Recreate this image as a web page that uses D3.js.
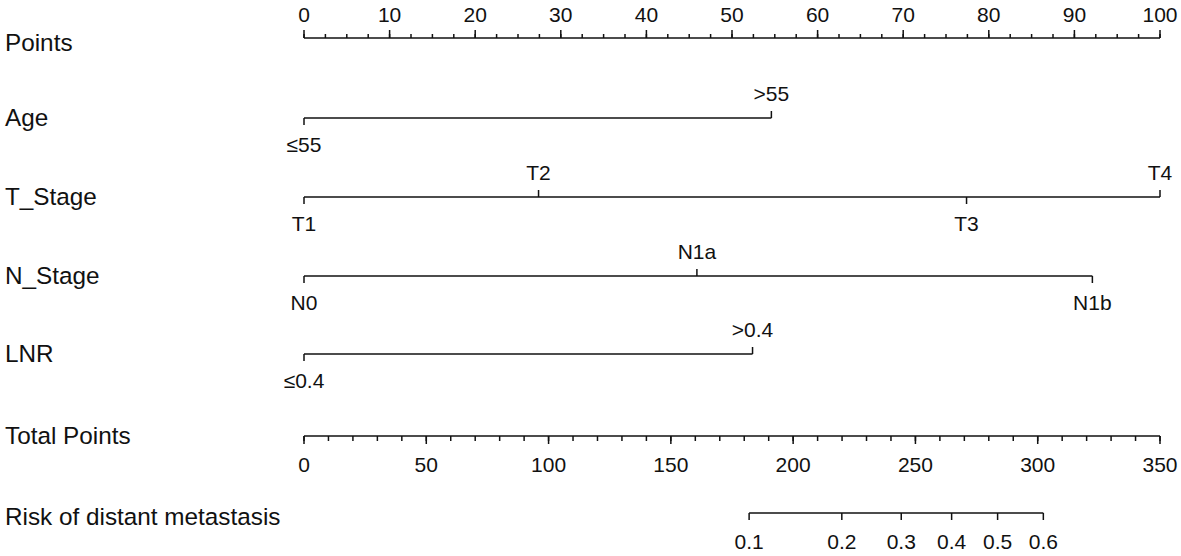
<!DOCTYPE html>
<html>
<head>
<meta charset="utf-8">
<script src="https://cdn.jsdelivr.net/npm/d3@7/dist/d3.min.js"></script>
<style>
  html, body { margin: 0; padding: 0; background: #fff; }
  svg { display: block; }
  text { font-family: "Liberation Sans", Arial, sans-serif; fill: #111; }
</style>
</head>
<body>
<svg id="chart" width="1181" height="556"></svg>
<script>
// ---- data ----
const rowLabels = ["Points", "Age", "T_Stage", "N_Stage", "LNR", "Total Points", "Risk of distant metastasis"];
const pointTicks = d3.range(0, 101, 10);
const pointMinorTicks = d3.range(0, 100.01, 2.5);

const ageLevels = ["≤55", ">55"];
const agePoints = [0, 54.6];
const tLevels = ["T1", "T2", "T3", "T4"];
const tPoints = [0, 27.4, 77.4, 100];
const nLevels = ["N0", "N1a", "N1b"];
const nPoints = [0, 45.9, 92.1];
const lnrLevels = ["≤0.4", ">0.4"];
const lnrPoints = [0, 52.4];

const totalTicks = d3.range(0, 351, 50);
const totalMinorTicks = d3.range(0, 351, 10);

const riskLabels = ["0.1", "0.2", "0.3", "0.4", "0.5", "0.6"];
const riskTotalPoints = [182.0, 219.9, 244.2, 264.8, 283.6, 302.3];

// ---- layout ----
const svg = d3.select("#chart");
const x0 = 304, x1 = 1160;
const xPts = d3.scaleLinear().domain([0, 100]).range([x0, x1]);
const xTot = d3.scaleLinear().domain([0, 350]).range([x0, x1]);
const lineY = [38, 118, 197, 276, 354, 436, 513];
const labelY = [51, 126, 205, 284, 362, 444, 525];
const ink = "#111";
const sw = 1.5;

// row labels
svg.selectAll("text.row").data(rowLabels).enter().append("text")
  .attr("class", "row")
  .attr("x", 5)
  .attr("y", (d, i) => labelY[i])
  .attr("font-size", 24.3)
  .text(d => d);

// ---- Points axis (ticks up, labels above) ----
const gP = svg.append("g").attr("transform", `translate(0,${lineY[0]})`);
gP.append("line").attr("x1", x0).attr("x2", x1).attr("y1", 0).attr("y2", 0)
  .attr("stroke", ink).attr("stroke-width", sw);
gP.selectAll("line.minor").data(pointMinorTicks).enter().append("line")
  .attr("x1", d => xPts(d)).attr("x2", d => xPts(d))
  .attr("y1", 0).attr("y2", -4).attr("stroke", ink).attr("stroke-width", sw);
gP.selectAll("line.major").data(pointTicks).enter().append("line")
  .attr("x1", d => xPts(d)).attr("x2", d => xPts(d))
  .attr("y1", 0).attr("y2", -8).attr("stroke", ink).attr("stroke-width", sw);
gP.selectAll("text").data(pointTicks).enter().append("text")
  .attr("x", d => xPts(d)).attr("y", -16)
  .attr("text-anchor", "middle").attr("font-size", 21)
  .text(d => d);

// ---- categorical variables ----
function catRow(levels, pts, y) {
  const g = svg.append("g").attr("transform", `translate(0,${y})`);
  g.append("line")
    .attr("x1", xPts(d3.min(pts))).attr("x2", xPts(d3.max(pts)))
    .attr("y1", 0).attr("y2", 0)
    .attr("stroke", ink).attr("stroke-width", sw);
  const data = levels.map((l, i) => ({ l, p: pts[i], up: i % 2 === 1 }));
  g.selectAll("line.tick").data(data).enter().append("line")
    .attr("x1", d => xPts(d.p)).attr("x2", d => xPts(d.p))
    .attr("y1", 0).attr("y2", d => d.up ? -7 : 7)
    .attr("stroke", ink).attr("stroke-width", sw);
  g.selectAll("text").data(data).enter().append("text")
    .attr("x", d => xPts(d.p))
    .attr("y", d => d.up ? -17 : 34)
    .attr("text-anchor", "middle").attr("font-size", 21)
    .text(d => d.l);
}
catRow(ageLevels, agePoints, lineY[1]);
catRow(tLevels, tPoints, lineY[2]);
catRow(nLevels, nPoints, lineY[3]);
catRow(lnrLevels, lnrPoints, lineY[4]);

// ---- Total points axis (ticks down, labels below) ----
const gT = svg.append("g").attr("transform", `translate(0,${lineY[5]})`);
gT.append("line").attr("x1", x0).attr("x2", x1).attr("y1", 0).attr("y2", 0)
  .attr("stroke", ink).attr("stroke-width", sw);
gT.selectAll("line.minor").data(totalMinorTicks).enter().append("line")
  .attr("x1", d => xTot(d)).attr("x2", d => xTot(d))
  .attr("y1", 0).attr("y2", 5).attr("stroke", ink).attr("stroke-width", sw);
gT.selectAll("line.major").data(totalTicks).enter().append("line")
  .attr("x1", d => xTot(d)).attr("x2", d => xTot(d))
  .attr("y1", 0).attr("y2", 8).attr("stroke", ink).attr("stroke-width", sw);
gT.selectAll("text").data(totalTicks).enter().append("text")
  .attr("x", d => xTot(d)).attr("y", 36)
  .attr("text-anchor", "middle").attr("font-size", 21)
  .text(d => d);

// ---- Risk axis ----
const gR = svg.append("g").attr("transform", `translate(0,${lineY[6]})`);
gR.append("line")
  .attr("x1", xTot(d3.min(riskTotalPoints))).attr("x2", xTot(d3.max(riskTotalPoints)))
  .attr("y1", 0).attr("y2", 0)
  .attr("stroke", ink).attr("stroke-width", sw);
gR.selectAll("line.tick").data(riskTotalPoints).enter().append("line")
  .attr("x1", d => xTot(d)).attr("x2", d => xTot(d))
  .attr("y1", 0).attr("y2", 7).attr("stroke", ink).attr("stroke-width", sw);
gR.selectAll("text").data(riskLabels).enter().append("text")
  .attr("x", (d, i) => xTot(riskTotalPoints[i])).attr("y", 36)
  .attr("text-anchor", "middle").attr("font-size", 21)
  .text(d => d);
</script>
</body>
</html>
